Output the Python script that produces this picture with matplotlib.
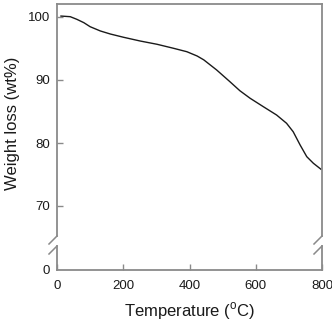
import matplotlib
matplotlib.use("Agg")
import matplotlib.pyplot as plt
from matplotlib.lines import Line2D

plt.rcParams['font.family'] = ['Liberation Sans', 'DejaVu Sans']
plt.rcParams['mathtext.fontset'] = 'custom'
plt.rcParams['mathtext.rm'] = 'Liberation Sans'

temperature = [12, 40, 60, 81, 100, 131, 161, 201, 251, 302, 352, 392, 423, 443,
               482, 522, 552, 583, 623, 663, 693, 713, 734, 754, 774, 797]
weight = [100.15, 100.05, 99.63, 99.1, 98.46, 97.78, 97.3, 96.78, 96.19, 95.67, 95.03,
          94.49, 93.81, 93.2, 91.59, 89.73, 88.3, 87.1, 85.76, 84.44, 83.13, 81.79,
          79.68, 77.83, 76.78, 75.83]
x_ticks = [0, 200, 400, 600, 800]
y_ticks_top = [70, 80, 90, 100]
y_ticks_bottom = [0]

W, H = 332, 321
fig = plt.figure(figsize=(W / 100, H / 100), dpi=100)

def fx(px):
    return px / W

def fy(py):
    return (H - py) / H

left, right = 57, 322
top_t, top_b = 4, 236
bot_t, bot_b = 246, 270

ax_top = fig.add_axes([fx(left), fy(top_b), fx(right) - fx(left), fy(top_t) - fy(top_b)])
ax_bot = fig.add_axes([fx(left), fy(bot_b), fx(right) - fx(left), fy(bot_t) - fy(bot_b)])

spine_c = '#8a8a8a'
for ax in (ax_top, ax_bot):
    ax.plot(temperature, weight, color='#1a1a1a', lw=1.0)
    ax.set_xlim(0, 800)
    for s in ax.spines.values():
        s.set_color(spine_c)
        s.set_linewidth(1.3)
    ax.tick_params(direction='in', length=4, width=1.0, color=spine_c,
                   labelsize=9.5, pad=5, labelcolor='#1a1a1a')

ax_top.set_ylim(100 - (top_b - 17) / 6.3, 100 + (17 - top_t) / 6.3)
ax_bot.set_ylim(0, (bot_b - bot_t) / 6.3)
ax_top.spines['bottom'].set_visible(False)
ax_bot.spines['top'].set_visible(False)
ax_top.set_xticks([])
ax_top.set_yticks(y_ticks_top)
ax_bot.set_yticks(y_ticks_bottom)
ax_bot.set_xticks(x_ticks)
ax_bot.tick_params(axis='x', pad=7.5)
ax_bot.tick_params(axis='y', length=0)

# break marks
for xs in (left, right):
    for yb in (top_b, bot_t):
        fig.add_artist(Line2D([fx(xs - 8), fx(xs)], [fy(yb + 8), fy(yb)],
                              transform=fig.transFigure, color=spine_c, lw=1.1))

fig.text(fx(189.5), fy(311), r'Temperature ($^{\mathrm{o}}$C)', ha='center', va='center',
         fontsize=12, color='#1a1a1a')
fig.text(fx(13), fy(123), 'Weight loss (wt%)', ha='center', va='center', rotation=90,
         fontsize=12, color='#1a1a1a')

fig.savefig('out.png', dpi=100)
